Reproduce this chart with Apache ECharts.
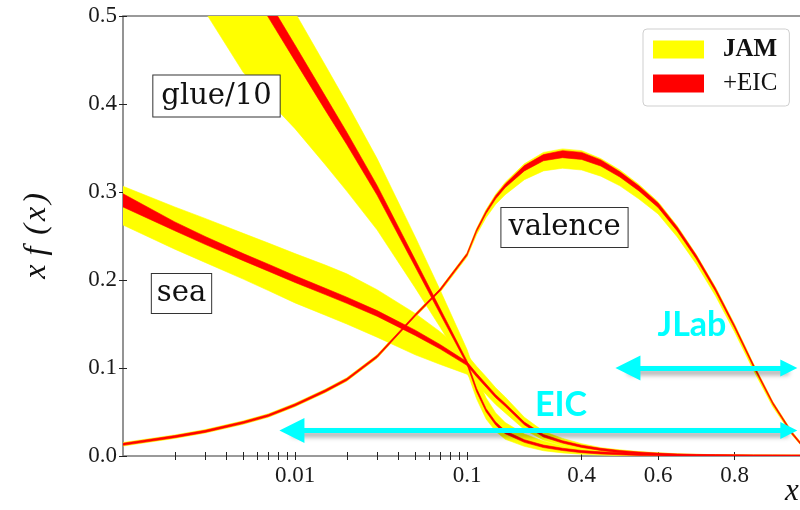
<!DOCTYPE html>
<html>
<head>
<meta charset="utf-8">
<script src="https://cdn.jsdelivr.net/npm/echarts@6/dist/echarts.min.js"></script>
<style>
  html, body { margin: 0; padding: 0; background: #fff; }
  #chart { width: 800px; height: 510px; }
</style>
</head>
<body>
<div id="chart"></div>
<script>
// x grid shared by all curves
const xPts = [0.001, 0.002, 0.003, 0.005, 0.007, 0.01, 0.015, 0.02, 0.03, 0.05, 0.07, 0.1,
  0.125, 0.15, 0.175, 0.2, 0.25, 0.3, 0.35, 0.4, 0.45, 0.5, 0.55, 0.6, 0.65, 0.7, 0.75, 0.8, 0.85, 0.9, 0.95, 1.0];

// valence
const valMid = [0.0133, 0.022, 0.028, 0.038, 0.046, 0.058, 0.074, 0.087, 0.113, 0.160, 0.189, 0.229,
  0.256, 0.277, 0.294, 0.307, 0.327, 0.339, 0.343, 0.341, 0.333, 0.320, 0.304, 0.285, 0.258, 0.226, 0.189, 0.147, 0.102, 0.060, 0.026, 0.0];
const valUp = [0.002, 0.002, 0.002, 0.002, 0.002, 0.002, 0.002, 0.002, 0.002, 0.002, 0.002, 0.002,
  0.0025, 0.003, 0.0035, 0.004, 0.005, 0.006, 0.006, 0.006, 0.005, 0.005, 0.0045, 0.004, 0.0035, 0.003, 0.003, 0.003, 0.0025, 0.002, 0.002, 0.001];
const valDn = [0.002, 0.002, 0.002, 0.002, 0.002, 0.002, 0.002, 0.002, 0.002, 0.002, 0.0025, 0.003,
  0.0045, 0.006, 0.008, 0.010, 0.013, 0.015, 0.016, 0.016, 0.015, 0.013, 0.012, 0.010, 0.009, 0.008, 0.007, 0.006, 0.005, 0.004, 0.002, 0.001];
const valEic = [0.0012, 0.0012, 0.0012, 0.0012, 0.0012, 0.0012, 0.0012, 0.0012, 0.0012, 0.0012, 0.0012, 0.0012,
  0.0013, 0.0015, 0.0018, 0.002, 0.003, 0.0035, 0.004, 0.004, 0.0035, 0.003, 0.0028, 0.0025, 0.0022, 0.002, 0.0018, 0.0015, 0.0013, 0.0012, 0.0011, 0.001];

// sea
const seaMid = [0.2905, 0.261, 0.245, 0.226, 0.214, 0.201, 0.187, 0.177, 0.162, 0.140, 0.124, 0.105,
  0.092, 0.080, 0.068, 0.058, 0.037, 0.023, 0.016, 0.011, 0.0075, 0.005, 0.0035, 0.0022, 0.0014, 0.0008, 0.0005, 0.0003, 0.0002, 0.0001, 0.0, 0.0];
const seaUp = [0.016, 0.022, 0.025, 0.027, 0.028, 0.029, 0.030, 0.030, 0.027, 0.022, 0.017, 0.010,
  0.010, 0.010, 0.0095, 0.009, 0.007, 0.005, 0.004, 0.003, 0.002, 0.002, 0.0015, 0.0015, 0.0012, 0.0012, 0.001, 0.001, 0.001, 0.001, 0.001, 0.001];
const seaDn = [0.028, 0.026, 0.025, 0.025, 0.026, 0.027, 0.027, 0.027, 0.027, 0.025, 0.020, 0.012,
  0.011, 0.010, 0.0095, 0.009, 0.007, 0.005, 0.004, 0.003, 0.002, 0.002, 0.0015, 0.0015, 0.0012, 0.0012, 0.001, 0.001, 0.001, 0.001, 0.001, 0.001];
const seaEic = [0.0075, 0.005, 0.0045, 0.004, 0.004, 0.0038, 0.0036, 0.0035, 0.0032, 0.003, 0.0025, 0.002,
  0.0019, 0.0018, 0.0017, 0.0016, 0.0015, 0.0014, 0.0013, 0.0012, 0.0012, 0.0012, 0.0011, 0.0011, 0.001, 0.001, 0.001, 0.001, 0.001, 0.001, 0.001, 0.001];

// glue/10 (values above 0.5 run off the top of the frame)
const glueMid = [0.808, 0.703, 0.640, 0.553, 0.508, 0.458, 0.401, 0.361, 0.302, 0.219, 0.164, 0.106,
  0.075, 0.052, 0.037, 0.027, 0.017, 0.011, 0.0075, 0.005, 0.0035, 0.0025, 0.0017, 0.0012, 0.0008, 0.0005, 0.0003, 0.0002, 0.0001, 0.0001, 0.0, 0.0];
const glueUp = [0.05, 0.05, 0.05, 0.05, 0.048, 0.046, 0.043, 0.040, 0.036, 0.030, 0.024, 0.015,
  0.015, 0.014, 0.012, 0.011, 0.008, 0.006, 0.004, 0.003, 0.0025, 0.002, 0.0015, 0.0012, 0.001, 0.001, 0.001, 0.001, 0.001, 0.001, 0.001, 0.001];
const glueDn = [0.17, 0.155, 0.135, 0.117, 0.104, 0.086, 0.070, 0.060, 0.045, 0.028, 0.018, 0.010,
  0.010, 0.010, 0.009, 0.008, 0.006, 0.005, 0.004, 0.003, 0.0025, 0.002, 0.0015, 0.0012, 0.001, 0.001, 0.001, 0.001, 0.001, 0.001, 0.001, 0.001];
const glueEic = [0.012, 0.012, 0.011, 0.010, 0.0095, 0.009, 0.008, 0.007, 0.0055, 0.004, 0.003, 0.002,
  0.0019, 0.0018, 0.0017, 0.0016, 0.0015, 0.0014, 0.0013, 0.0012, 0.0012, 0.0011, 0.0011, 0.001, 0.001, 0.001, 0.001, 0.001, 0.001, 0.001, 0.001, 0.001];

// axis ticks
const yTicks = [0, 0.1, 0.2, 0.3, 0.4, 0.5];
const xLabelVals = [0.01, 0.1, 0.4, 0.6, 0.8];
const xTickVals = [0.002, 0.003, 0.004, 0.005, 0.006, 0.007, 0.008, 0.009, 0.01,
  0.02, 0.03, 0.04, 0.05, 0.06, 0.07, 0.08, 0.09, 0.1, 0.4, 0.6, 0.8];

// kinematic reach arrows: [xFrom, xTo, y]
const eicArrow = [0.0096, 0.942, 0.029];
const jlabArrow = [0.521, 0.942, 0.1];

// log below 0.1, linear above (linear part is two decades wide)
function tx(x) {
  return x <= 0.1 ? Math.log10(x) : -1 + (x - 0.1) / 0.45;
}

const YELLOW = '#ffff00';
const RED = '#ff0000';
const CYAN = '#00ffff';
const SERIF = 'Liberation Serif';

function band(name, color, mid, up, dn) {
  const rows = xPts.map((x, i) => [tx(x), mid[i] - dn[i], mid[i] + up[i]]);
  return {
    type: 'custom',
    name: name,
    clip: true,
    silent: true,
    itemStyle: {color: color},
    data: rows,
    encode: {x: 0, y: [1, 2]},
    renderItem(params, api) {
      if (params.dataIndex !== 0) return null;
      const top = rows.map(r => api.coord([r[0], r[2]]));
      const bot = rows.map(r => api.coord([r[0], r[1]])).reverse();
      return {
        type: 'polygon',
        shape: {points: top.concat(bot)},
        style: {fill: color, stroke: color, lineWidth: 0.6}
      };
    }
  };
}

function arrow(a) {
  return {
    type: 'lines',
    coordinateSystem: 'cartesian2d',
    silent: true,
    symbol: ['triangle', 'triangle'],
    symbolSize: [25, 17],
    lineStyle: {
      color: CYAN, width: 5, opacity: 1,
      shadowBlur: 5, shadowOffsetY: 4, shadowColor: 'rgba(0,0,0,0.35)'
    },
    data: [{coords: [[tx(a[0]), a[2]], [tx(a[1]), a[2]]]}]
  };
}

const xTickPos = xTickVals.map(tx);
const xLabelPos = xLabelVals.map(tx);

const chart = echarts.init(document.getElementById('chart'));

const tickRich = {t: {fontFamily: SERIF, fontSize: 23, color: '#1a1a1a'}};
const nameIt = {fontFamily: SERIF, fontStyle: 'italic', fontSize: 32, color: '#111'};
const boxText = {
  fontFamily: 'DejaVu Serif', fontSize: 29, fill: '#111',
  backgroundColor: '#fff', borderColor: '#333', borderWidth: 1,
  align: 'center', verticalAlign: 'middle', textAlign: 'center', textVerticalAlign: 'middle',
  lineHeight: 31
};
const gridRect = {left: 123, top: 16, right: -11, bottom: 54, outerBoundsMode: 'none'};
const tickLine = {color: '#222', width: 1};

chart.setOption({
  animation: false,
  textStyle: {fontFamily: SERIF},
  grid: [
    {...gridRect, show: true, borderColor: '#7a7a7a', borderWidth: 1.6},
    {...gridRect, show: false}
  ],
  legend: {
    orient: 'vertical',
    left: 643, top: 29,
    itemWidth: 51, itemHeight: 18, itemGap: 9,
    padding: [8, 12, 10, 10],
    borderColor: '#cfcfcf', borderWidth: 1, borderRadius: 4,
    backgroundColor: '#fff',
    icon: 'rect',
    textStyle: {fontFamily: SERIF, fontSize: 25, color: '#111', padding: [0, 0, 0, 14]},
    data: [
      {name: 'JAM', textStyle: {fontWeight: 'bold'}},
      {name: '+EIC'}
    ]
  },
  xAxis: [
    {
      type: 'value', min: -3, max: 1, position: 'bottom', gridIndex: 0,
      axisLine: {show: false, onZero: false}, splitLine: {show: false},
      axisTick: {show: true, length: 4, customValues: xTickPos, lineStyle: tickLine},
      axisLabel: {
        show: true, customValues: xLabelPos, margin: 8, rich: tickRich,
        formatter(v) {
          const i = xLabelPos.findIndex(p => Math.abs(p - v) < 1e-6);
          return i >= 0 ? '{t|' + xLabelVals[i] + '}' : '';
        }
      }
    },
    {
      type: 'value', min: -3, max: 1, position: 'bottom', gridIndex: 1,
      axisLine: {show: false, onZero: false}, splitLine: {show: false},
      axisTick: {show: true, inside: true, length: 4, customValues: xTickPos, lineStyle: tickLine},
      axisLabel: {show: false}
    }
  ],
  yAxis: [
    {
      type: 'value', min: 0, max: 0.5, interval: 0.1, position: 'left', gridIndex: 0,
      axisLine: {show: false, onZero: false}, splitLine: {show: false},
      axisTick: {show: true, length: 4, customValues: yTicks, lineStyle: tickLine},
      axisLabel: {show: true, customValues: yTicks, margin: 6, rich: tickRich, formatter: v => '{t|' + v.toFixed(1) + '}'},
      name: '{i|x}{f|f}{l|(}{i|x}{r|)}',
      nameLocation: 'middle',
      nameGap: 70,
      nameRotate: 90,
      nameTextStyle: {
        rich: {
          i: nameIt,
          f: {...nameIt, padding: [0, 12, 0, 9]},
          l: {...nameIt, padding: [0, 3, 0, 0]},
          r: {...nameIt, padding: [0, 0, 0, 3]}
        }
      }
    },
    {
      type: 'value', min: 0, max: 0.5, interval: 0.1, position: 'left', gridIndex: 1,
      axisLine: {show: false, onZero: false}, splitLine: {show: false},
      axisTick: {show: true, inside: true, length: 4, customValues: yTicks, lineStyle: tickLine},
      axisLabel: {show: false}
    }
  ],
  series: [
    band('JAM', YELLOW, glueMid, glueUp, glueDn),
    band('JAM', YELLOW, seaMid, seaUp, seaDn),
    band('JAM', YELLOW, valMid, valUp, valDn),
    band('+EIC', RED, glueMid, glueEic, glueEic),
    band('+EIC', RED, seaMid, seaEic, seaEic),
    band('+EIC', RED, valMid, valEic, valEic),
    arrow(eicArrow),
    arrow(jlabArrow)
  ],
  graphic: [
    {type: 'text', z: 100, style: {...boxText, text: 'glue/10', x: 216.5, y: 96, padding: [5, 8]}},
    {type: 'text', z: 100, style: {...boxText, text: 'sea', x: 181.5, y: 293.5, padding: [4, 5]}},
    {type: 'text', z: 100, style: {...boxText, text: 'valence', x: 564.5, y: 227.5, padding: [4, 7]}},
    {type: 'text', z: 100, style: {text: 'EIC', x: 561, y: 405, font: 'bold 34px Lato', fill: CYAN,
      align: 'center', verticalAlign: 'middle', textAlign: 'center', textVerticalAlign: 'middle'}},
    {type: 'text', z: 100, style: {text: 'JLab', x: 692, y: 325, font: 'bold 34px Lato', fill: CYAN,
      align: 'center', verticalAlign: 'middle', textAlign: 'center', textVerticalAlign: 'middle'}},
    {type: 'text', z: 100, style: {text: 'x', x: 792, y: 492, font: 'italic 31px "Liberation Serif"', fill: '#111',
      align: 'center', verticalAlign: 'middle', textAlign: 'center', textVerticalAlign: 'middle'}}
  ]
});
</script>
</body>
</html>
